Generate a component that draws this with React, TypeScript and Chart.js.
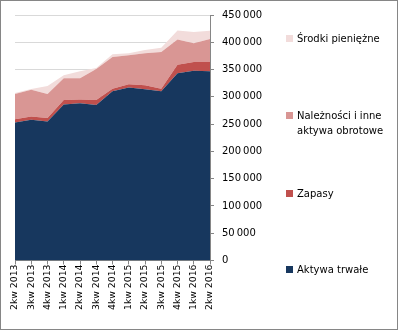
import React, { useEffect, useRef } from "react";
import { Chart, registerables } from "chart.js";

Chart.register(...registerables);

const categories = [
  "2kw 2013", "3kw 2013", "4kw 2013", "1kw 2014", "2kw 2014", "3kw 2014", "4kw 2014",
  "1kw 2015", "2kw 2015", "3kw 2015", "4kw 2015", "1kw 2016", "2kw 2016",
];
const aktywaTrwale = [253000, 258000, 255000, 286000, 288000, 285000, 310000, 317000, 314000, 310000, 343000, 348000, 347000];
const zapasy = [6000, 6000, 6000, 8000, 7000, 9000, 5000, 6000, 7000, 5000, 16000, 16000, 17000];
const naleznosci = [46000, 49000, 44000, 40000, 39000, 57000, 58000, 53000, 59000, 67000, 46000, 34000, 42000];
const srodki = [2000, 1500, 15000, 5500, 13000, 2000, 5000, 4000, 6000, 8000, 16500, 21000, 15000];
const yTicks = [0, 50000, 100000, 150000, 200000, 250000, 300000, 350000, 400000, 450000];

const COLORS = {
  aktywa: "#17375E",
  zapasy: "#C0504D",
  naleznosci: "#D99694",
  srodki: "#F2DCDB",
};

const FONT = "'DejaVu Sans', sans-serif";

const fmt = (v: number) => String(v).replace(/\B(?=(\d{3})+(?!\d))/g, "\u2009");

export default function App() {
  const ref = useRef<HTMLCanvasElement | null>(null);

  useEffect(() => {
    document.body.style.margin = "0";
    const ctx = ref.current!;
    const chart = new Chart(ctx, {
      type: "line",
      data: {
        labels: categories,
        datasets: [
          { label: "Aktywa trwałe", data: aktywaTrwale, backgroundColor: COLORS.aktywa, fill: "origin" },
          { label: "Zapasy", data: zapasy, backgroundColor: COLORS.zapasy, fill: "-1" },
          { label: "Należności i inne aktywa obrotowe", data: naleznosci, backgroundColor: COLORS.naleznosci, fill: "-1" },
          { label: "Środki pieniężne", data: srodki, backgroundColor: COLORS.srodki, fill: "-1" },
        ].map((d) => ({ ...d, borderWidth: 0, pointRadius: 0, tension: 0, borderColor: d.backgroundColor })),
      },
      options: {
        animation: false,
        responsive: false,
        devicePixelRatio: 1,
        layout: { padding: { left: 14, top: 3, right: 127, bottom: 19 } },
        plugins: { legend: { display: false }, tooltip: { enabled: false } },
        scales: {
          x: {
            stacked: true,
            offset: false,
            grid: { drawOnChartArea: false, tickLength: 4, tickColor: "#868686", color: "#868686" },
            border: { color: "#868686" },
            ticks: {
              minRotation: 90,
              maxRotation: 90,
              autoSkip: false,
              padding: 0,
              color: "#000",
              font: { family: FONT, size: 9.3 },
            },
          },
          y: {
            stacked: true,
            position: "right",
            min: 0,
            max: 450000,
            afterBuildTicks: (s: any) => {
              s.ticks = yTicks.map((v) => ({ value: v }));
            },
            afterFit: (s: any) => {
              s.width = 60;
            },
            grid: { color: "#d9d9d9", tickLength: 4, tickColor: "#868686" },
            border: { color: "#868686" },
            ticks: {
              padding: 8,
              color: "#000",
              font: { family: FONT, size: 10 },
              callback: (v: any) => fmt(Number(v)),
            },
          },
        },
      },
    });
    return () => chart.destroy();
  }, []);

  const legendItems = [
    { label: ["Środki pieniężne"], color: COLORS.srodki, top: 30 },
    { label: ["Należności i inne", "aktywa obrotowe"], color: COLORS.naleznosci, top: 107 },
    { label: ["Zapasy"], color: COLORS.zapasy, top: 185 },
    { label: ["Aktywa trwałe"], color: COLORS.aktywa, top: 261 },
  ];

  return (
    <div
      style={{
        position: "relative",
        width: 398,
        height: 330,
        boxSizing: "border-box",
        border: "1px solid #868686",
        background: "#fff",
        fontFamily: FONT,
      }}
    >
      <canvas ref={ref} width={396} height={328} style={{ display: "block" }} />
      {legendItems.map((it, i) => (
        <div key={i} style={{ position: "absolute", left: 285, top: it.top, fontSize: 10, lineHeight: "15px", color: "#000" }}>
          <span
            style={{
              position: "absolute",
              left: 0,
              top: 4,
              width: 7,
              height: 7,
              background: it.color,
            }}
          />
          <div style={{ marginLeft: 11, whiteSpace: "nowrap" }}>
            {it.label.map((l, j) => (
              <div key={j}>{l}</div>
            ))}
          </div>
        </div>
      ))}
    </div>
  );
}
